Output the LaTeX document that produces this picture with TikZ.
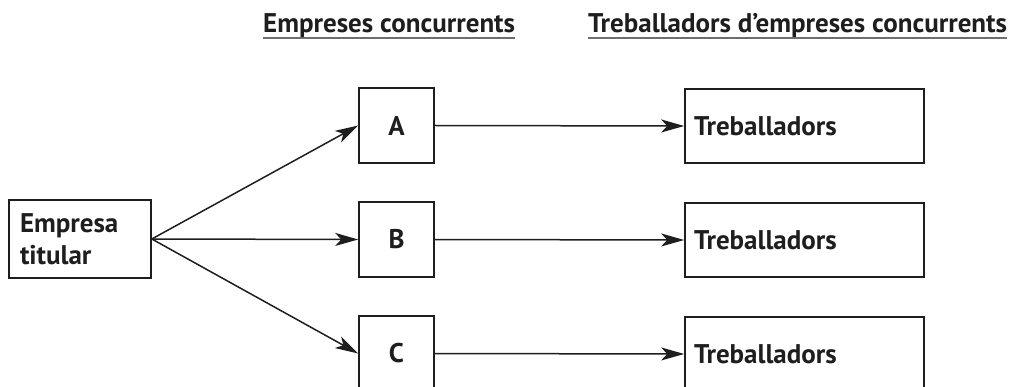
\documentclass[tikz,border=0pt]{standalone}
\usepackage{fontspec}
\setmainfont{PT Sans}
\usetikzlibrary{arrows.meta}
\definecolor{ink}{HTML}{1E1E1E}
\definecolor{rule}{HTML}{6E6E6E}
\begin{document}
\begin{tikzpicture}[x=1pt,y=-1pt,
  every node/.style={font=\bfseries\fontsize{27}{32}\selectfont, text=ink},
  box/.style={draw=ink, line width=1.6pt, inner sep=0pt, rectangle},
  letterbox/.style={box, minimum width=75pt, minimum height=75pt},
  workbox/.style={box, minimum height=74pt, text width=221pt, inner xsep=9pt, align=left},
  heading/.style={inner sep=0pt, anchor=base west},
  link/.style={draw=ink, line width=1.5pt, -{Stealth[length=23pt,width=13pt,inset=6pt]}}
]
  \clip (0,0) rectangle (1017,387);
  \useasboundingbox (0,0) rectangle (1017,387);

  % column headings
  \node[heading] (h1) at (263,33) {Empreses concurrents};
  \node[heading] (h2) at (588,33) {Treballadors d’empreses concurrents};
  \draw[rule, line width=1.8pt] ([yshift=-5pt]h1.base west) -- ([yshift=-5pt]h1.base east);
  \draw[rule, line width=1.8pt] ([yshift=-5pt]h2.base west) -- ([yshift=-5pt]h2.base east);

  % main company
  \node[box, minimum height=78pt, text width=120pt, inner xsep=11pt, align=left] (et) at (80,239) {Empresa\\titular};

  % concurrent companies
  \node[letterbox] (a) at (396.5,125.5) {A};
  \node[letterbox] (b) at (396.5,239.5) {B};
  \node[letterbox] (c) at (396.5,353.5) {C};

  % their workers
  \node[workbox] (ta) at (804.5,126) {Treballadors};
  \node[workbox] (tb) at (804.5,240) {Treballadors};
  \node[workbox] (tc) at (804.5,354) {Treballadors};

  % connectors
  \draw[link] (et.east) -- (a.west);
  \draw[link] (et.east) -- (b.west);
  \draw[link] (et.east) -- (c.west);
  \draw[link] (a.east) -- (ta.west);
  \draw[link] (b.east) -- (tb.west);
  \draw[link] (c.east) -- (tc.west);
\end{tikzpicture}
\end{document}
